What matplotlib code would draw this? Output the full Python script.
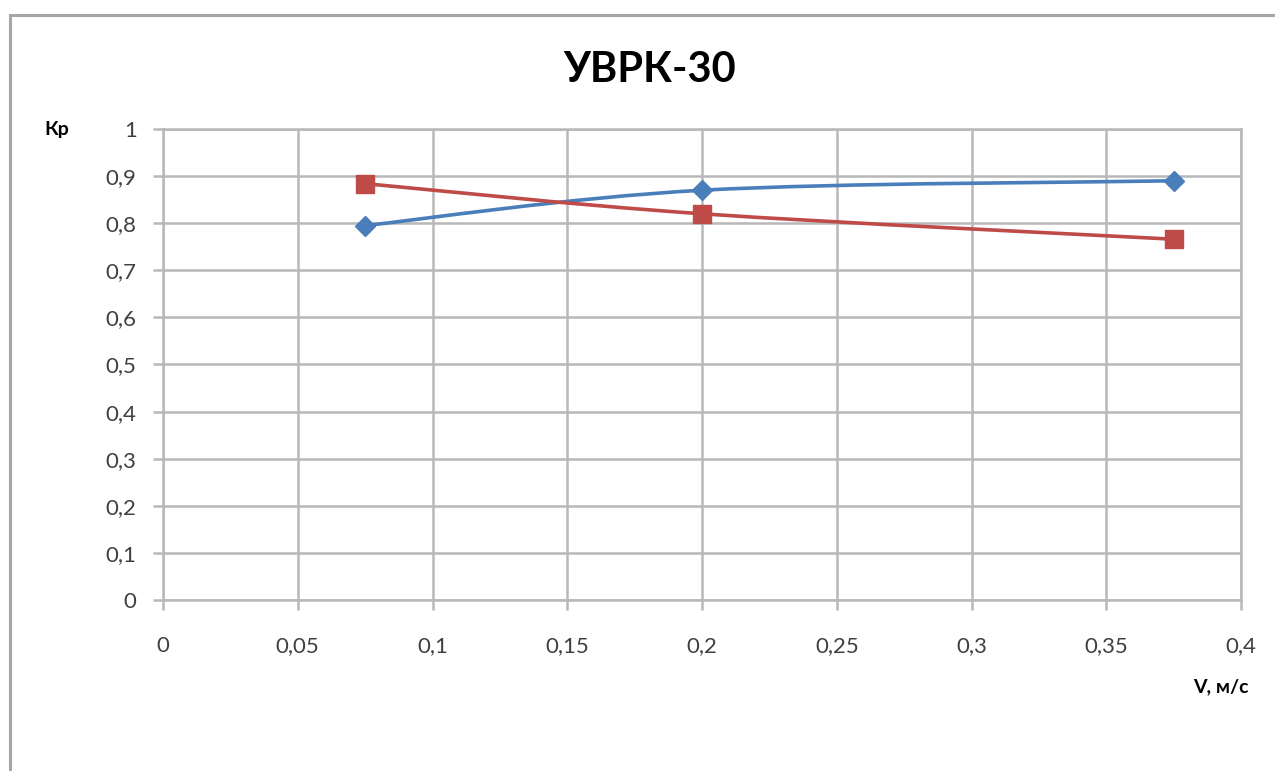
import matplotlib.pyplot as plt
import matplotlib.patches as mpatches
from matplotlib.path import Path
from matplotlib.ticker import FuncFormatter, MultipleLocator
import numpy as np

# Кр по скорости V для УВРК-30
v = [0.075, 0.2, 0.375]
kp_blue = [0.795, 0.870, 0.890]
kp_red = [0.884, 0.820, 0.766]

title = "УВРК-30"
ylab = "Кр"
xlab = "V, м/с"

c_blue = '#4a7ebb'
c_red = '#be4b48'
c_grid = '#b8b8b8'

plt.rcParams['font.family'] = ['Lato', 'DejaVu Sans']


def smooth_path(xs, ys):
    # сглаженная линия как в Excel (Catmull-Rom -> кубические Безье)
    pts = list(zip(xs, ys))
    verts = [pts[0]]
    codes = [Path.MOVETO]
    n = len(pts)
    for i in range(n - 1):
        p0 = pts[i - 1] if i > 0 else pts[i]
        p1 = pts[i]
        p2 = pts[i + 1]
        p3 = pts[i + 2] if i + 2 < n else pts[i + 1]
        c1 = (p1[0] + (p2[0] - p0[0]) / 6, p1[1] + (p2[1] - p0[1]) / 6)
        c2 = (p2[0] - (p3[0] - p1[0]) / 6, p2[1] - (p3[1] - p1[1]) / 6)
        verts += [c1, c2, p2]
        codes += [Path.CURVE4] * 3
    return Path(verts, codes)


fig = plt.figure(figsize=(12.75, 7.71), dpi=100)
fig.patch.set_facecolor('white')

# рамка области диаграммы
frame = mpatches.Rectangle((10 / 1275, -0.1), 1.2, 1 - 15 / 771 + 0.1,
                           transform=fig.transFigure, fill=False,
                           edgecolor='#a6a6a6', linewidth=2.2)
fig.patches.append(frame)

ax = fig.add_axes([163 / 1275, 1 - 600 / 771, (1241 - 163) / 1275, (600 - 129) / 771])
ax.set_xlim(0, 0.4)
ax.set_ylim(0, 1)
ax.xaxis.set_major_locator(MultipleLocator(0.05))
ax.yaxis.set_major_locator(MultipleLocator(0.1))

fmt = FuncFormatter(lambda val, pos: ('%g' % round(val, 2)).replace('.', ','))
ax.xaxis.set_major_formatter(fmt)
ax.yaxis.set_major_formatter(fmt)

ax.grid(True, color=c_grid, linewidth=1.8)
ax.set_axisbelow(True)
for s in ax.spines.values():
    s.set_color(c_grid)
    s.set_linewidth(1.8)
ax.tick_params(axis='both', color=c_grid, width=1.8, length=7,
               labelsize=16, labelcolor='#404040')
ax.tick_params(axis='x', pad=19)
ax.tick_params(axis='y', pad=12)

for ys, col in [(kp_blue, c_blue), (kp_red, c_red)]:
    ax.add_patch(mpatches.PathPatch(smooth_path(v, ys), fill=False,
                                    edgecolor=col, linewidth=2.6, zorder=3))

ax.plot(v, kp_blue, linestyle='none', marker='D', markersize=10,
        color=c_blue, zorder=4, clip_on=False)
ax.plot(v, kp_red, linestyle='none', marker='s', markersize=12.5,
        color=c_red, zorder=4, clip_on=False)

fig.text(650 / 1275, 1 - 70 / 771, title, ha='center', va='center',
         fontsize=30, fontweight='bold')
fig.text(57 / 1275, 1 - 130 / 771, ylab, ha='center', va='center',
         fontsize=14, fontweight='bold')
fig.text(1221 / 1275, 1 - 687 / 771, xlab, ha='center', va='center',
         fontsize=14, fontweight='bold')

plt.savefig('out.png', dpi=100, facecolor=fig.get_facecolor())
